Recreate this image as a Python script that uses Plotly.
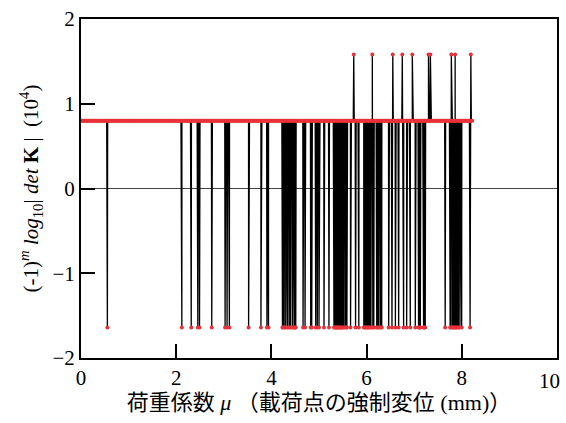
import numpy as np
import plotly.graph_objects as go

# ---- data ----
mu_start = 0.0
mu_end = 8.22
mu_step = 0.02
base_level = 0.80          # (-1)^m log10|det K| on the stable path (x10^4)
down_level = -1.64         # value at load steps where det K changes sign (negative)
up_level = 1.58            # value at load steps with large positive jumps

down_mu = [0.554, 2.119, 2.316, 2.454, 2.490, 2.747, 3.027, 3.069, 3.117, 3.521,
           3.780, 3.906, 3.939, 4.232, 4.251, 4.268, 4.301, 4.337, 4.372, 4.401,
           4.441, 4.477, 4.493, 4.512,
           4.665, 4.707, 4.826, 4.847, 4.931, 4.964, 5.000, 5.105, 5.209, 5.314,
           5.331, 5.349, 5.367, 5.383, 5.401, 5.418, 5.437, 5.454, 5.471, 5.487,
           5.511, 5.544, 5.563, 5.586, 5.663, 5.768, 5.837,
           5.941, 5.963, 5.983, 6.003, 6.025, 6.043, 6.067, 6.091, 6.131, 6.151,
           6.213, 6.233, 6.255, 6.291, 6.318, 6.464, 6.533,
           6.605, 6.674, 6.778, 6.841, 6.918, 7.023, 7.092, 7.111, 7.128, 7.197,
           7.213, 7.232,
           7.651, 7.755, 7.771, 7.803, 7.823, 7.845, 7.863, 7.887, 7.911, 7.929,
           7.961, 7.998, 8.174]
up_mu = [5.73, 6.12, 6.55, 6.75, 6.96, 7.30, 7.34, 7.78, 7.86, 8.19]

x_tickvals = [0, 2, 4, 6, 8, 10]
x_ticklabels = ["0", "2", "4", "6", "8", "10"]
y_tickvals = [-2, -1, 0, 1, 2]

# ---- build the series (steps on the path + the spike steps) ----
n_steps = int(round((mu_end - mu_start) / mu_step)) + 1
base_mu = [round(mu_start + i * mu_step, 4) for i in range(n_steps)]
pts = [(m, base_level) for m in base_mu]
pts += [(m, down_level) for m in down_mu]
pts += [(m, up_level) for m in up_mu]
pts.sort(key=lambda p: p[0])
xs = [p[0] for p in pts]
ys = [p[1] for p in pts]

serif = "Liberation Serif, DejaVu Serif, Noto Sans CJK JP, serif"

fig = go.Figure()
fig.add_trace(go.Scatter(
    x=xs, y=ys, mode="lines+markers",
    line=dict(color="black", width=1.3),
    marker=dict(color="#e8323a", size=4, line=dict(width=0)),
    showlegend=False,
))

# last x tick label drawn as an annotation, nudged inward so it stays in the page
shown_text = x_ticklabels[:-1] + [""]
fig.add_annotation(
    x=x_tickvals[-1], y=0, xref="x", yref="paper",
    text=x_ticklabels[-1], showarrow=False,
    xanchor="center", yanchor="top", xshift=-8, yshift=-9,
    font=dict(family=serif, size=21, color="black"),
)

fig.update_layout(
    width=566, height=423,
    margin=dict(l=81, r=7, t=17, b=65),
    paper_bgcolor="white", plot_bgcolor="white",
    font=dict(family=serif, color="black", size=20),
    xaxis=dict(
        range=[0, 10], tickvals=x_tickvals, ticktext=shown_text,
        showgrid=False, zeroline=False, automargin=False,
        showline=True, linecolor="black", linewidth=2, mirror=True,
        ticks="inside", ticklen=14, tickwidth=2, tickcolor="black",
        tickfont=dict(family=serif, size=21),
        title=dict(text="荷重係数 <i>μ</i> （載荷点の強制変位 (mm)）",
                   font=dict(family=serif, size=22), standoff=3),
    ),
    yaxis=dict(
        range=[-2, 2], tickvals=y_tickvals,
        showgrid=False, zeroline=True, zerolinecolor="#444", zerolinewidth=1,
        showline=True, linecolor="black", linewidth=2, mirror=True,
        ticks="inside", ticklen=14, tickwidth=2, tickcolor="black",
        tickfont=dict(family=serif, size=21),
        title=dict(text="(-1)<sup><i>m</i></sup> <i>log</i><sub>10</sub>| <i>det</i> <b>K</b> |  (10<sup>4</sup>)",
                   font=dict(family=serif, size=21), standoff=8),
    ),
)

fig.write_html("out.html")
